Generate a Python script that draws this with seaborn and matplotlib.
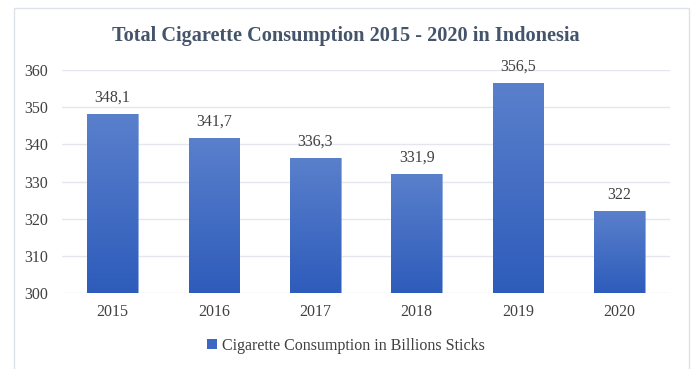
import matplotlib
matplotlib.use("Agg")
import matplotlib.pyplot as plt
import numpy as np
import pandas as pd
import seaborn as sns
from matplotlib.patches import Rectangle
from matplotlib.colors import LinearSegmentedColormap

years = ["2015", "2016", "2017", "2018", "2019", "2020"]
consumption = [348.1, 341.7, 336.3, 331.9, 356.5, 322]
value_labels = ["348,1", "341,7", "336,3", "331,9", "356,5", "322"]
y_ticks = [300, 310, 320, 330, 340, 350, 360]

df = pd.DataFrame({"Year": years, "Consumption": consumption})

sns.set_theme(style="white")
plt.rcParams["font.family"] = ["Liberation Serif", "DejaVu Serif"]

fig = plt.figure(figsize=(6.92, 3.69), dpi=100)
ax = fig.add_axes([62 / 692, 1 - 293 / 369, (670 - 62) / 692, (293 - 70) / 369])

bar_color = "#4472c4"
sns.barplot(data=df, x="Year", y="Consumption", color=bar_color, width=0.5,
            saturation=1, ax=ax, zorder=2)

# Vertical gradient fill on each bar
cmap = LinearSegmentedColormap.from_list("barfill", ["#2e5cbb", "#5a80cc"])
grad = np.linspace(0, 1, 256).reshape(-1, 1)
for patch in ax.patches:
    x0, y0 = patch.get_x(), patch.get_y()
    w, h = patch.get_width(), patch.get_height()
    patch.set_facecolor("none")
    patch.set_edgecolor("#7f9ddb")
    patch.set_linewidth(0.6)
    im = ax.imshow(grad, cmap=cmap, origin="lower", aspect="auto",
                   extent=[x0, x0 + w, 300, y0 + h], zorder=2)
    im.set_clip_path(patch)

ax.set_ylim(300, 360)
ax.set_xlim(-0.5, len(years) - 0.5)

for i, (v, lab) in enumerate(zip(consumption, value_labels)):
    ax.text(i, v + 2.3, lab, ha="center", va="bottom", fontsize=11.5, color="#404040")

ax.set_yticks(y_ticks)
ax.yaxis.grid(True, color="#e3e6ec", linewidth=1.0, zorder=0)
ax.set_axisbelow(True)
for s in ax.spines.values():
    s.set_visible(False)
ax.tick_params(axis="both", length=0, labelsize=11.5, labelcolor="#404040")
ax.tick_params(axis="y", pad=10)
ax.tick_params(axis="x", pad=8)
ax.set_xlabel("")
ax.set_ylabel("")

fig.text(0.5, 1 - 36 / 369, "Total Cigarette Consumption 2015 - 2020 in Indonesia",
         ha="center", va="center", fontsize=14.6, fontweight="bold", color="#44546a")

# Legend entry
handle = Rectangle((0, 0), 1, 1, facecolor="#3d67c2", edgecolor="none")
fig.legend([handle], ["Cigarette Consumption in Billions Sticks"], loc="center",
           bbox_to_anchor=(0.5, 1 - 346 / 369), frameon=False, fontsize=11.5,
           handlelength=0.6, handleheight=0.6, handletextpad=0.3,
           labelcolor="#404040")

# Chart area border
fig.patches.append(Rectangle((14 / 692, -0.02), (689 - 14) / 692, 1 - 8 / 369 + 0.02,
                             transform=fig.transFigure, fill=False,
                             edgecolor="#dde2ea", linewidth=1.0))

fig.savefig("out.png", dpi=100)
